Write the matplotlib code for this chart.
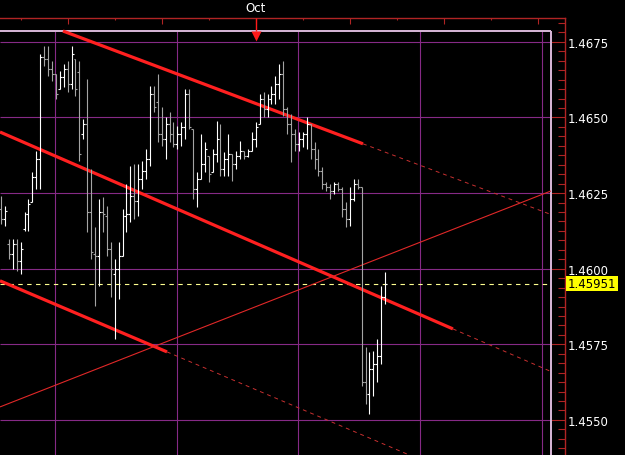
import matplotlib
matplotlib.use('Agg')
import matplotlib.pyplot as plt
from matplotlib.ticker import MultipleLocator, FormatStrFormatter

# hourly OHLC bars, oldest first
opens = [1.46198, 1.46165, 1.46082, 1.46049, 1.46082, 1.46025, 1.46132, 1.46181, 1.46221, 1.46304,
         1.46363, 1.46700, 1.46694, 1.46661, 1.46644, 1.46595, 1.46634, 1.46661, 1.46611, 1.46694,
         1.46651, 1.46446, 1.46479, 1.46188, 1.46049, 1.46042, 1.46188, 1.46175, 1.46065, 1.45983,
         1.45999, 1.46042, 1.46175, 1.46181, 1.46241, 1.46224, 1.46297, 1.46323, 1.46363, 1.46578,
         1.46552, 1.46446, 1.46429, 1.46479, 1.46446, 1.46413, 1.46446, 1.46469, 1.46578, 1.46462,
         1.46264, 1.46297, 1.46347, 1.46373, 1.46320, 1.46380, 1.46429, 1.46330, 1.46363, 1.46380,
         1.46347, 1.46373, 1.46390, 1.46373, 1.46390, 1.46429, 1.46479, 1.46561, 1.46528, 1.46561,
         1.46578, 1.46611, 1.46644, 1.46528, 1.46479, 1.46446, 1.46413, 1.46429, 1.46446, 1.46479,
         1.46396, 1.46363, 1.46323, 1.46280, 1.46270, 1.46257, 1.46280, 1.46264, 1.46198, 1.46165,
         1.46231, 1.46280, 1.46270, 1.45626, 1.45586, 1.45669, 1.45685, 1.45712, 1.45907]
highs = [1.46241, 1.46208, 1.46099, 1.46099, 1.46099, 1.46089, 1.46188, 1.46231, 1.46320, 1.46390,
         1.46710, 1.46737, 1.46737, 1.46687, 1.46644, 1.46654, 1.46677, 1.46687, 1.46737, 1.46694,
         1.46687, 1.46495, 1.46628, 1.46330, 1.46138, 1.46231, 1.46237, 1.46208, 1.46089, 1.46032,
         1.46089, 1.46198, 1.46280, 1.46340, 1.46347, 1.46347, 1.46356, 1.46396, 1.46604, 1.46604,
         1.46644, 1.46535, 1.46502, 1.46518, 1.46485, 1.46472, 1.46485, 1.46595, 1.46595, 1.46462,
         1.46320, 1.46446, 1.46419, 1.46373, 1.46396, 1.46489, 1.46479, 1.46386, 1.46446, 1.46380,
         1.46390, 1.46423, 1.46390, 1.46396, 1.46452, 1.46485, 1.46578, 1.46585, 1.46578, 1.46604,
         1.46638, 1.46677, 1.46687, 1.46535, 1.46512, 1.46462, 1.46452, 1.46452, 1.46502, 1.46479,
         1.46419, 1.46396, 1.46337, 1.46287, 1.46280, 1.46287, 1.46287, 1.46270, 1.46221, 1.46270,
         1.46297, 1.46297, 1.46270, 1.45741, 1.45725, 1.45728, 1.45768, 1.45943, 1.45989]
lows = [1.46148, 1.46142, 1.46032, 1.45999, 1.45993, 1.45983, 1.46125, 1.46125, 1.46221, 1.46264,
        1.46264, 1.46671, 1.46638, 1.46621, 1.46561, 1.46595, 1.46601, 1.46585, 1.46595, 1.46571,
        1.46356, 1.46429, 1.46122, 1.46032, 1.45877, 1.45943, 1.46122, 1.46042, 1.45907, 1.45768,
        1.45900, 1.46042, 1.46122, 1.46155, 1.46165, 1.46175, 1.46264, 1.46297, 1.46340, 1.46518,
        1.46419, 1.46406, 1.46363, 1.46419, 1.46403, 1.46396, 1.46406, 1.46429, 1.46462, 1.46231,
        1.46204, 1.46297, 1.46320, 1.46287, 1.46320, 1.46353, 1.46307, 1.46307, 1.46307, 1.46290,
        1.46330, 1.46363, 1.46363, 1.46370, 1.46390, 1.46403, 1.46479, 1.46502, 1.46502, 1.46545,
        1.46545, 1.46561, 1.46505, 1.46446, 1.46353, 1.46390, 1.46390, 1.46403, 1.46396, 1.46363,
        1.46330, 1.46307, 1.46264, 1.46257, 1.46231, 1.46247, 1.46257, 1.46171, 1.46138, 1.46142,
        1.46224, 1.46264, 1.45612, 1.45553, 1.45520, 1.45579, 1.45626, 1.45685, 1.45884]
closes = [1.46165, 1.46191, 1.46049, 1.46082, 1.46025, 1.46065, 1.46181, 1.46214, 1.46304, 1.46363,
          1.46700, 1.46694, 1.46661, 1.46644, 1.46578, 1.46634, 1.46661, 1.46611, 1.46710, 1.46595,
          1.46380, 1.46479, 1.46188, 1.46056, 1.46042, 1.46188, 1.46181, 1.46065, 1.45999, 1.45999,
          1.46042, 1.46175, 1.46181, 1.46241, 1.46224, 1.46297, 1.46323, 1.46363, 1.46578, 1.46535,
          1.46446, 1.46429, 1.46479, 1.46446, 1.46413, 1.46446, 1.46469, 1.46578, 1.46469, 1.46264,
          1.46297, 1.46347, 1.46396, 1.46313, 1.46380, 1.46429, 1.46330, 1.46363, 1.46380, 1.46347,
          1.46373, 1.46390, 1.46373, 1.46390, 1.46429, 1.46469, 1.46561, 1.46528, 1.46561, 1.46578,
          1.46611, 1.46644, 1.46528, 1.46479, 1.46446, 1.46413, 1.46429, 1.46446, 1.46479, 1.46396,
          1.46363, 1.46323, 1.46280, 1.46270, 1.46257, 1.46280, 1.46264, 1.46198, 1.46165, 1.46231,
          1.46280, 1.46270, 1.45626, 1.45586, 1.45669, 1.45685, 1.45712, 1.45907, 1.45951]

last_price = 1.45951
price_levels = [1.4550, 1.4575, 1.4600, 1.4625, 1.4650, 1.4675]
day_ticks = [17, 41, 65, 89, 113, 137]
day_labels = ['', '', 'Oct', '', '', '']
half_day_ticks = [5, 29, 53, 77, 101, 125]
oct_bar = 65
vgrid = [13.8, 44.8, 75.8, 107.0, 138.0]

# trend lines: two anchor points (bar, price), drawn solid between them
channel_top = [(15.8, 1.46786), (92.35, 1.46413)]
channel_mid = [(-0.26, 1.46452), (115.3, 1.45801)]
channel_low = [(-0.26, 1.45960), (42.35, 1.45725)]
rising_line = [(-0.26, 1.45543), (140.3, 1.46257)]

# chart window
frame_x = 140.3
frame_top = 1.46786
xlim = (-0.26, 143.9)
ylim = (1.45384, 1.46829)

red_axis = '#b02424'
grid_col = '#862a86'
frame_col = '#d9b9d9'

fig = plt.figure(figsize=(6.25, 4.56), dpi=100, facecolor='black')
ax = fig.add_axes([0, 0, 565 / 625, 437 / 456])
ax.set_facecolor('black')
ax.set_xlim(*xlim)
ax.set_ylim(*ylim)

# grid + frame
ax.hlines(price_levels, xlim[0], frame_x, colors=grid_col, lw=0.8, zorder=1)
ax.vlines(vgrid, ylim[0], frame_top, colors=grid_col, lw=0.8, zorder=1)
ax.hlines(frame_top, xlim[0], frame_x, colors=frame_col, lw=1.4, zorder=2)
ax.vlines(frame_x, ylim[0], frame_top, colors=frame_col, lw=1.4, zorder=2)

# current price line
ax.hlines(last_price, xlim[0], frame_x, colors='#ffff90', lw=0.8,
          linestyles=(0, (4, 4)), zorder=2)


def draw_trend(pts, lw, color, extend=True):
    (x0, y0), (x1, y1) = pts
    slope = (y1 - y0) / (x1 - x0)
    ax.plot([x0, x1], [y0, y1], color=color, lw=lw, solid_capstyle='butt', zorder=3)
    if extend and x1 < frame_x:
        ax.plot([x1, frame_x], [y1, y1 + slope * (frame_x - x1)], color='#c83030',
                lw=0.7, ls=(0, (4, 4)), zorder=3)


draw_trend(channel_top, 2.3, '#ff2020')
draw_trend(channel_mid, 2.3, '#ff2020')
draw_trend(channel_low, 2.3, '#ff2020')
draw_trend(rising_line, 0.8, '#e02828', extend=False)

# OHLC bars
idx = list(range(len(closes)))
cols = ['#ffffff' if c >= o else '#a4a4a4' for o, c in zip(opens, closes)]
ax.vlines(idx, lows, highs, colors=cols, lw=0.8, zorder=4)
ax.hlines(opens, [i - 0.5 for i in idx], idx, colors=cols, lw=0.8, zorder=4)
ax.hlines(closes, idx, [i + 0.5 for i in idx], colors=cols, lw=0.8, zorder=4)

# Oct marker
ax.vlines(oct_bar, frame_top, ylim[1], colors='#ff1a1a', lw=1.0, zorder=5)
ax.plot([oct_bar], [1.46770], marker='v', ms=7.5, color='#ff1a1a', mec='none', zorder=5)

# axes: red top and right, ticks inward
for s in ['left', 'bottom']:
    ax.spines[s].set_visible(False)
for s in ['top', 'right']:
    ax.spines[s].set_color(red_axis)
    ax.spines[s].set_linewidth(1.0)

ax.yaxis.tick_right()
ax.yaxis.set_major_locator(MultipleLocator(0.0025))
ax.yaxis.set_minor_locator(MultipleLocator(0.0025 / 8))
ax.yaxis.set_major_formatter(FormatStrFormatter('%.4f'))
ax.tick_params(axis='y', which='major', direction='in', length=10, width=0.8,
               color=red_axis, labelcolor='white', labelsize=8.5, pad=2)
ax.tick_params(axis='y', which='minor', direction='in', length=5, width=0.8, color=red_axis)

ax.xaxis.tick_top()
ax.set_xticks(day_ticks)
ax.set_xticklabels(day_labels)
ax.set_xticks(half_day_ticks, minor=True)
ax.tick_params(axis='x', which='major', direction='in', length=4.3, width=0.8,
               color=red_axis, labelcolor='white', labelsize=8.5, pad=3)
ax.tick_params(axis='x', which='minor', direction='in', length=1.5, width=0.8, color=red_axis)

# last price tag
ax.annotate(f'{last_price:.5f}', xy=(1, last_price), xycoords=('axes fraction', 'data'),
            xytext=(2, 0), textcoords='offset points', ha='left', va='center',
            color='black', fontsize=8.5,
            bbox=dict(boxstyle='square,pad=0.12', fc='#ffff00', ec='none'),
            annotation_clip=False)

fig.savefig('out.png', dpi=100, facecolor='black')
